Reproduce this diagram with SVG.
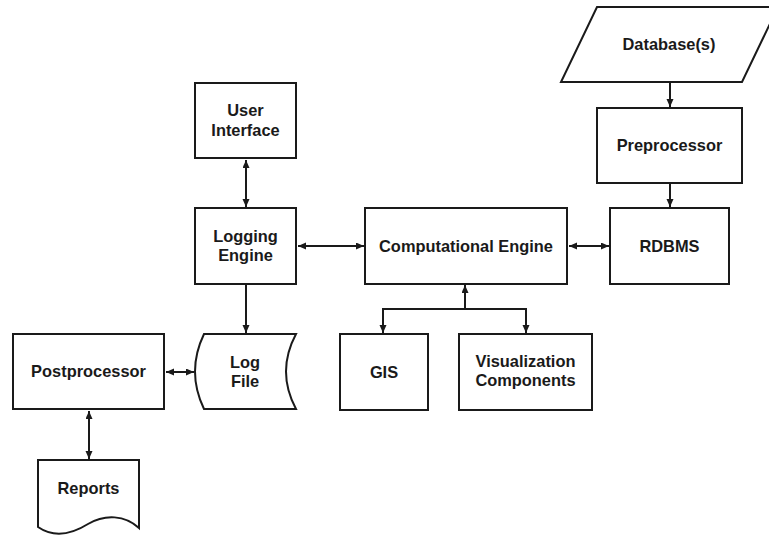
<svg xmlns="http://www.w3.org/2000/svg" width="769" height="537" viewBox="0 0 769 537">
<style>
.s{fill:#fff;stroke:#1a1a1a;stroke-width:2}
.c{fill:none;stroke:#1a1a1a;stroke-width:2}
text{font-family:"Liberation Sans",Arial,sans-serif;font-weight:bold;font-size:16.4px;fill:#1a1a1a;text-anchor:middle}
</style>
<defs>
<marker id="a" markerUnits="userSpaceOnUse" markerWidth="10" markerHeight="8" refX="8" refY="3.5" orient="auto-start-reverse">
<path d="M0,0 L8,3.5 L0,7 z" fill="#1a1a1a"/>
</marker>
</defs>
<rect width="769" height="537" fill="#fff"/>
<g id="connectors">
<line class="c" x1="246" y1="160" x2="246" y2="207" marker-start="url(#a)" marker-end="url(#a)"/>
<line class="c" x1="298" y1="246" x2="364" y2="246" marker-start="url(#a)" marker-end="url(#a)"/>
<line class="c" x1="569" y1="246" x2="609" y2="246" marker-start="url(#a)" marker-end="url(#a)"/>
<line class="c" x1="670" y1="83" x2="670" y2="107" marker-end="url(#a)"/>
<line class="c" x1="670" y1="184" x2="670" y2="207" marker-end="url(#a)"/>
<line class="c" x1="246" y1="285" x2="246" y2="333" marker-end="url(#a)"/>
<line class="c" x1="166" y1="372" x2="194" y2="372" marker-start="url(#a)" marker-end="url(#a)"/>
<line class="c" x1="89" y1="411" x2="89" y2="459" marker-start="url(#a)" marker-end="url(#a)"/>
<line class="c" x1="465" y1="309" x2="465" y2="285" marker-end="url(#a)"/>
<polyline class="c" points="383,333 383,309 526,309 526,333" marker-start="url(#a)" marker-end="url(#a)"/>
</g>
<g id="database">
<polygon class="s" points="597,7 778,7 742,82 561,82"/>
<text x="669" y="50">Database(s)</text>
</g>
<g id="preprocessor">
<rect class="s" x="597" y="108" width="145" height="75"/>
<text x="669.5" y="151">Preprocessor</text>
</g>
<g id="rdbms">
<rect class="s" x="610" y="208" width="119" height="76"/>
<text x="669.5" y="252">RDBMS</text>
</g>
<g id="user-interface">
<rect class="s" x="195" y="83" width="101" height="75"/>
<text x="245.5" y="116">User</text>
<text x="245.5" y="136">Interface</text>
</g>
<g id="logging-engine">
<rect class="s" x="195" y="208" width="101" height="76"/>
<text x="245.5" y="242">Logging</text>
<text x="245.5" y="261">Engine</text>
</g>
<g id="computational-engine">
<rect class="s" x="365" y="208" width="202" height="76"/>
<text x="466" y="252">Computational Engine</text>
</g>
<g id="gis">
<rect class="s" x="340" y="334" width="88" height="76"/>
<text x="384" y="378">GIS</text>
</g>
<g id="visualization">
<rect class="s" x="459" y="334" width="133" height="76"/>
<text x="525.5" y="367">Visualization</text>
<text x="525.5" y="386">Components</text>
</g>
<g id="log-file">
<path class="s" d="M204,334 L296,334 Q276,371.5 296,409 L204,409 Q186,371.5 204,334 Z"/>
<text x="245" y="368">Log</text>
<text x="245" y="387">File</text>
</g>
<g id="postprocessor">
<rect class="s" x="13" y="334" width="151" height="75"/>
<text x="88.5" y="377">Postprocessor</text>
</g>
<g id="reports">
<path class="s" d="M38,460 L139,460 L139,528 C125,515 105,514 88,524 C72,534 54,538 38,527 Z"/>
<text x="88.5" y="494">Reports</text>
</g>
</svg>
